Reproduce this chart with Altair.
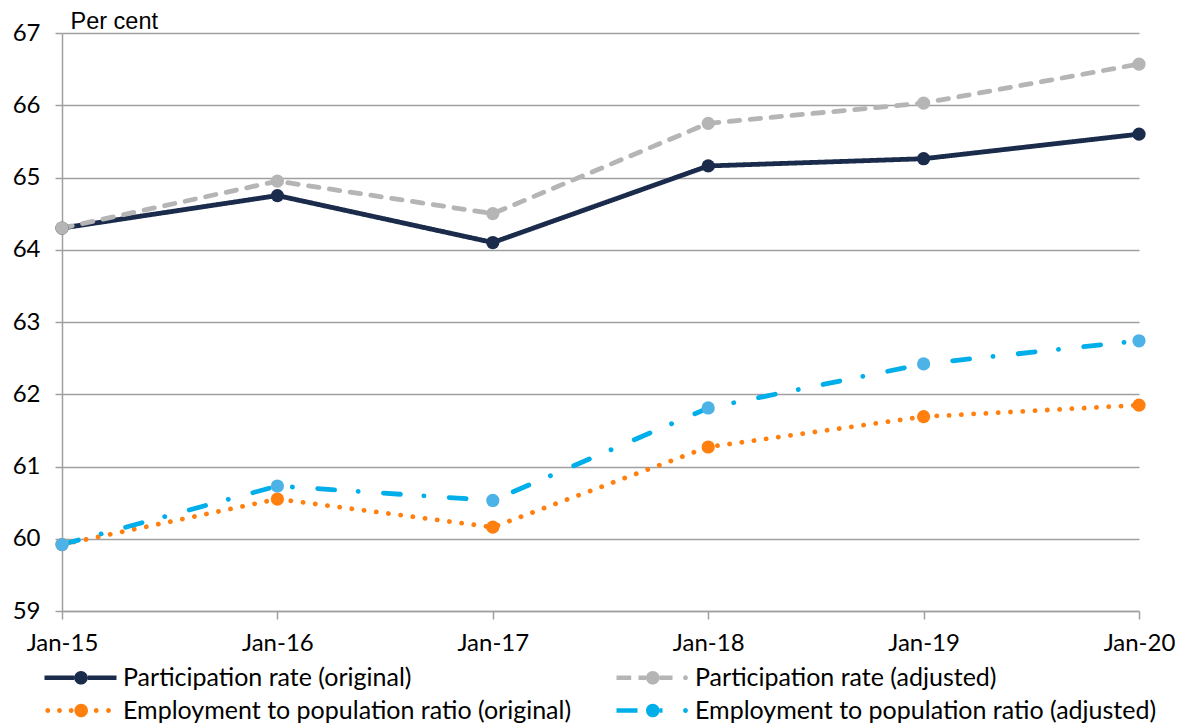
import altair as alt
import pandas as pd

# -- data ------------------------------------------------------------------
dates = ["Jan-15", "Jan-16", "Jan-17", "Jan-18", "Jan-19", "Jan-20"]
series = [
    "Participation rate (original)",
    "Participation rate (adjusted)",
    "Employment to population ratio (original)",
    "Employment to population ratio (adjusted)",
]
series_keys = ["po", "pa", "eo", "ea"]
part_orig = [64.3, 64.75, 64.1, 65.16, 65.26, 65.6]
part_adj = [64.3, 64.95, 64.5, 65.75, 66.03, 66.57]
emp_orig = [59.92, 60.55, 60.16, 61.27, 61.69, 61.85]
emp_adj = [59.92, 60.73, 60.53, 61.81, 62.42, 62.74]
y_ticks = [59, 60, 61, 62, 63, 64, 65, 66, 67]

# legend fills column by column, so list it as it is read down each column
legend_order = [series[0], series[2], series[1], series[3]]

# -- styling ----------------------------------------------------------------
line_colors = ["#1B2B4B", "#B5B5B5", "#FF7F0F", "#00AEEA"]
point_colors = ["#1B2B4B", "#B5B5B5", "#FF7F0F", "#4DB3E6"]
dashes = [[1, 0], [10.5, 10.5], [0.1, 12.2], [17, 23.5, 0.1, 25.3]]
GRID = "#A0A0A0"


def rect(x1, x2, h=0.22):
    return f"M{x1:.2f},{-h:.2f}L{x2:.2f},{-h:.2f}L{x2:.2f},{h:.2f}L{x1:.2f},{h:.2f}Z"


def circ(cx, r):
    return (f"M{cx - r:.2f},0A{r:.2f},{r:.2f},0,1,1,{cx + r:.2f},0"
            f"A{r:.2f},{r:.2f},0,1,1,{cx - r:.2f},0Z")


# legend glyphs: line pattern with a marker in the middle (units of 10 px)
R = 0.68
d = 0.24
glyphs = {
    series[0]: rect(-1, 2.65 - R) + circ(2.65, R) + rect(2.65 + R, 6.2),
    series[1]: rect(-1, 0.47) + rect(1.2, 2.63 - R) + circ(2.63, R)
    + rect(2.63 + R, 4.6) + circ(5.9, d),
    series[2]: circ(-0.67, d) + circ(0.5, d) + circ(1.67, d) + circ(2.67, R)
    + circ(4.17, d) + circ(5.4, d),
    series[3]: rect(-1, 1.1) + circ(2.63, R) + rect(2.63 + R, 3.6) + circ(5.9, d),
}
legend_colors = dict(zip(series, line_colors))

rows = []
for name, key, vals in zip(series, series_keys, [part_orig, part_adj, emp_orig, emp_adj]):
    for dt, v in zip(dates, vals):
        rows.append({"date": dt, "value": v, "series": name, "key": key})
df = pd.DataFrame(rows)

x_enc = alt.X(
    "date:N",
    sort=dates,
    scale=alt.Scale(type="point", padding=0),
    axis=alt.Axis(
        title=None, grid=False, labelAngle=0, tickSize=8, labelPadding=12,
        tickColor=GRID, tickWidth=1.5, domainColor=GRID, domainWidth=1.5,
    ),
)
y_enc = alt.Y(
    "value:Q",
    scale=alt.Scale(domain=[59, 67], nice=False, zero=False),
    axis=alt.Axis(
        values=y_ticks, title="Per cent", titleAngle=0, titleAlign="left",
        titleBaseline="alphabetic", titleX=8, titleY=-5,
        titleFont="Liberation Sans", titleFontSize=23.5, titleFontWeight="normal",
        titleColor="black", tickSize=7, labelPadding=15,
        tickColor=GRID, tickWidth=1.5, domainColor=GRID, domainWidth=1.5,
        gridColor=GRID, gridWidth=1.5,
    ),
)

base = alt.Chart(df)

lines = base.mark_line(strokeWidth=4.8, strokeCap="round").encode(
    x=x_enc,
    y=y_enc,
    stroke=alt.Stroke("key:N", scale=alt.Scale(domain=series_keys, range=line_colors), legend=None),
    strokeDash=alt.StrokeDash("key:N", scale=alt.Scale(domain=series_keys, range=dashes), legend=None),
)

points = base.mark_point(filled=True, size=175, opacity=1).encode(
    x=x_enc,
    y=y_enc,
    fill=alt.Fill("key:N", scale=alt.Scale(domain=series_keys, range=point_colors), legend=None),
)

# empty layer that only carries the legend
legend_layer = base.transform_filter("false").mark_point(filled=True, opacity=1).encode(
    x=x_enc,
    y=y_enc,
    color=alt.Color(
        "series:N",
        scale=alt.Scale(domain=legend_order, range=[legend_colors[s] for s in legend_order]),
        legend=alt.Legend(
            title=None, orient="none", legendX=-20, legendY=632,
            columns=2, columnPadding=42, rowPadding=7, padding=0,
            symbolSize=400, symbolStrokeWidth=0, symbolOpacity=1,
            labelOffset=56, labelFont="Lato", labelFontSize=25,
            labelColor="black", labelLimit=800,
        ),
    ),
    shape=alt.Shape(
        "series:N",
        scale=alt.Scale(domain=legend_order, range=[glyphs[s] for s in legend_order]),
    ),
)

chart = (
    alt.layer(lines, points, legend_layer)
    .properties(
        width=1077,
        height=578,
        autosize=alt.AutoSizeParams(type="none"),
        padding={"left": 54, "top": 25, "right": 36, "bottom": 116},
    )
    .configure_view(stroke=None)
    .configure_axis(labelFont="Lato", labelFontSize=24, labelColor="black")
)

chart.save("out.html", embed_options={"renderer": "svg", "actions": False})
